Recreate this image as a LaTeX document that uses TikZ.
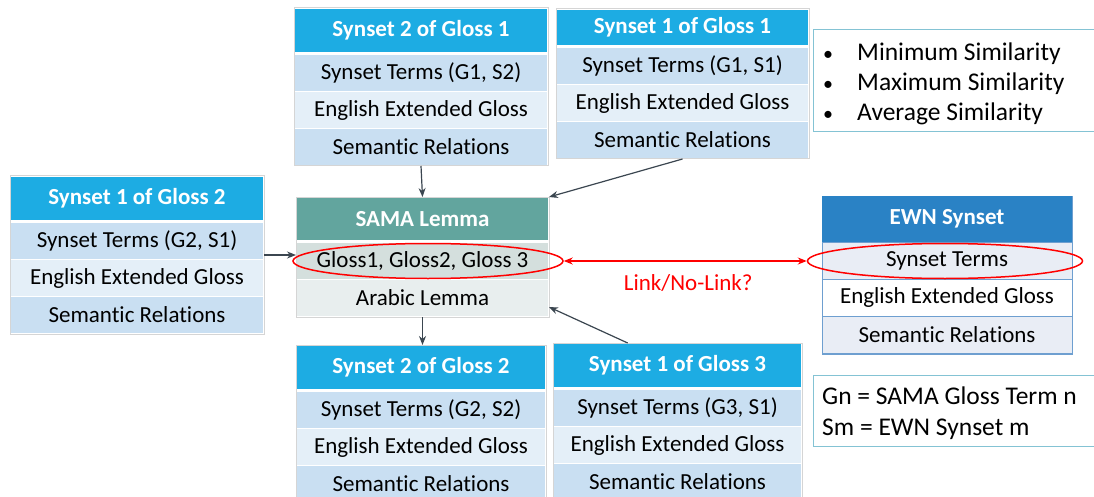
\documentclass[tikz,border=0pt]{standalone}
\usepackage{fontspec}
\setmainfont{Carlito}[Ligatures=NoCommon]
\usetikzlibrary{arrows.meta,shapes.geometric,calc}

\definecolor{cHdrBlue}{HTML}{1DACE3}
\definecolor{cRowDark}{HTML}{C9DFF2}
\definecolor{cRowLight}{HTML}{E4EFF8}
\definecolor{cSamaHdr}{HTML}{62A59E}
\definecolor{cSamaDark}{HTML}{D4DFDD}
\definecolor{cSamaLight}{HTML}{E8EEEE}
\definecolor{cEwnHdr}{HTML}{2A82C5}
\definecolor{cEwnRow}{HTML}{E9EDF5}
\definecolor{cEwnLine}{HTML}{6E9FD0}
\definecolor{cFrame}{HTML}{D5D5D5}
\definecolor{cNote}{HTML}{84C3D4}
\definecolor{cArrow}{HTML}{3B4650}
\definecolor{cRed}{HTML}{FF0000}

% one synset table: name, left, right, top, header height, title, first row
\newcommand{\synsettable}[7]{%
  \pgfmathsetmacro\tblW{#3-#2}%
  \pgfmathsetmacro\cellW{#3-#2-2}%
  \pgfmathsetmacro\tblH{#5+115}%
  \node[frame, minimum width=\tblW pt, minimum height=\tblH pt] (#1) at (#2,#4) {};
  \node[hdr, minimum width=\cellW pt, minimum height=#5 pt] (#1-h) at (#2+1,#4+1) {#6};
  \node[rowA, minimum width=\cellW pt] (#1-a) at (#2+1,#4+#5+4) {#7};
  \node[rowB, minimum width=\cellW pt] (#1-b) at (#2+1,#4+#5+41) {English Extended Gloss};
  \node[rowA, minimum width=\cellW pt] (#1-c) at (#2+1,#4+#5+78) {Semantic Relations};
}
% list bullet
\newcommand{\listdot}{\makebox[30pt]{\fontsize{20}{20}\selectfont •}\hspace{14pt}}

\begin{document}
\begin{tikzpicture}[x=1pt,y=-1pt,
  cellbase/.style={rectangle, inner sep=0pt, outer sep=0pt, anchor=north west,
    minimum height=36pt, font=\fontsize{23}{27}\selectfont},
  hdr/.style={cellbase, fill=cHdrBlue, text=white, font=\fontsize{23}{27}\selectfont\bfseries},
  rowA/.style={cellbase, fill=cRowDark},
  rowB/.style={cellbase, fill=cRowLight},
  frame/.style={rectangle, draw=cFrame, fill=white, line width=1pt, inner sep=0pt,
    outer sep=0pt, anchor=north west},
  notebox/.style={rectangle, draw=cNote, fill=white, line width=1pt, inner sep=0pt,
    outer sep=0pt, anchor=north west},
  link/.style={draw=cArrow, line width=1.2pt, -{Stealth[length=9pt,width=7pt]}},
  ring/.style={ellipse, draw=cRed, line width=1.5pt, inner sep=0pt, minimum height=35pt},
  redlink/.style={draw=cRed, line width=1.5pt,
    {Stealth[length=9pt,width=7pt]}-{Stealth[length=9pt,width=7pt]}},
]
\useasboundingbox (0,0) rectangle (1094,497);
\clip (0,0) rectangle (1094,497);
\fill[white] (0,0) rectangle (1094,497);

% synsets of the Arabic glosses
\synsettable{s21}{294}{548}{8}{43}{Synset 2 of Gloss 1}{Synset Terms (G1, S2)}
\synsettable{s11}{556}{809}{9}{35}{Synset 1 of Gloss 1}{Synset Terms (G1, S1)}
\synsettable{s12}{10}{264}{176}{43}{Synset 1 of Gloss 2}{Synset Terms (G2, S1)}
\synsettable{s22}{296}{546}{345}{43}{Synset 2 of Gloss 2}{Synset Terms (G2, S2)}
\synsettable{s13}{553}{802}{343}{43}{Synset 1 of Gloss 3}{Synset Terms (G3, S1)}

% SAMA lemma
\node[frame, minimum width=253pt, minimum height=120pt] (sama) at (296,197) {};
\node[hdr, fill=cSamaHdr, minimum width=251pt, minimum height=42pt] (sama-h) at (297,198) {SAMA Lemma};
\node[rowA, fill=cSamaDark, minimum width=251pt] (sama-a) at (297,243) {Gloss1, Gloss2, Gloss 3};
\node[rowB, fill=cSamaLight, minimum width=251pt] (sama-b) at (297,280) {Arabic Lemma};

% EWN synset
\node[frame, draw=cEwnLine, minimum width=250pt, minimum height=158pt] (ewn) at (822,196) {};
\node[hdr, fill=cEwnHdr, minimum width=250pt, minimum height=46pt] (ewn-h) at (822,196) {EWN Synset};
\node[cellbase, fill=cEwnRow, draw=cEwnLine, line width=1pt, minimum width=250pt, minimum height=37pt] (ewn-a) at (822,242) {Synset Terms};
\node[cellbase, fill=white, draw=cEwnLine, line width=1pt, minimum width=250pt, minimum height=37pt] (ewn-b) at (822,279) {English Extended Gloss};
\node[cellbase, fill=cEwnRow, draw=cEwnLine, line width=1pt, minimum width=250pt, minimum height=37pt] (ewn-c) at (822,316) {Semantic Relations};

% similarity measures
\node[notebox, minimum width=290pt, minimum height=102pt] (simbox) at (813,30) {};
\node[anchor=west, inner sep=0pt, font=\fontsize{25.5}{30}\selectfont] (simlist) at (813,85)
  {\begin{tabular}{@{}l@{}}
   \listdot Minimum Similarity\\
   \listdot Maximum Similarity\\
   \listdot Average Similarity
   \end{tabular}};

% notation
\node[notebox, minimum width=290pt, minimum height=71pt] (notebox) at (813,375) {};
\node[anchor=west, inner sep=0pt, align=left, font=\fontsize{25.5}{31}\selectfont] (notation) at (822,413.5)
  {Gn = SAMA Gloss Term n\\Sm = EWN Synset m};

% connectors between synsets and the lemma
\draw[link] (s21.south) -- (sama.north);
\draw[link] (s11.south) -- (sama.north east);
\draw[link] (s12.east) -- (s12.east -| sama.west);
\draw[link] (sama.south) -- (sama.south |- s22.north);
\draw[link] ($(s13.north west)!0.3!(s13.north east)$) -- ($(sama.south east)+(0,-10)$);

% compared fields
\node[ring, minimum width=270pt] (ring1) at (428,261) {};
\node[ring, minimum width=275pt] (ring2) at (945,261) {};
\draw[redlink] (ring1.east) -- (ring2.west);
\node[text=cRed, inner sep=0pt, font=\fontsize{23}{27}\selectfont] (linklbl)
  at ($(ring1.east)!0.5!(ring2.west)+(3,22)$) {Link/No-Link?};
\end{tikzpicture}
\end{document}
